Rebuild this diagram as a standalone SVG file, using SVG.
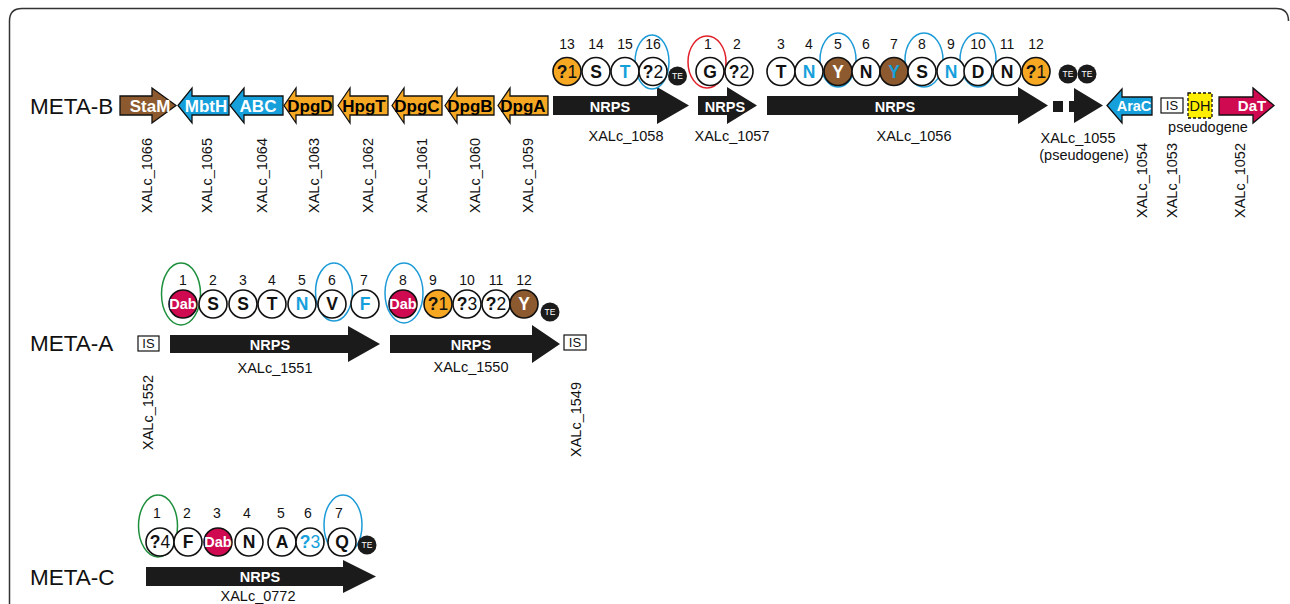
<svg xmlns="http://www.w3.org/2000/svg" width="1290" height="604" viewBox="0 0 1290 604">
<style>
text{font-family:"Liberation Sans",Arial,Helvetica,sans-serif;}
.lab{font-size:14.5px;fill:#111;}
.mid{text-anchor:middle;}
.vt{font-size:14.5px;fill:#111;text-anchor:end;}
.title{font-size:22.5px;fill:#111;}
.g{stroke:#111;stroke-width:1.3;stroke-linejoin:miter;}
.gt{font-size:17px;font-weight:bold;text-anchor:middle;}
.nrps{fill:#1b1b1b;}
.nt{font-size:14.5px;font-weight:bold;fill:#fff;text-anchor:middle;}
.c{fill:#fff;stroke:#111;stroke-width:1.6;}
.or{fill:#F7A823;}
.br{fill:#8C5A2E;}
.cr{fill:#D00A50;}
.ct{font-size:17.5px;font-weight:bold;text-anchor:middle;fill:#111;}
.dab{font-size:14.5px;}
.w{fill:#fff;}
.b{fill:#16A0DB;}
.n{font-weight:normal;}
.num{font-size:14px;text-anchor:middle;fill:#111;}
.te{fill:#1b1b1b;}
.tet{font-size:8.5px;fill:#fff;text-anchor:middle;}
.eb{fill:none;stroke:#1D9BD7;stroke-width:1.5;}
.er{fill:none;stroke:#E2202A;stroke-width:1.5;}
.eg{fill:none;stroke:#1E8F3C;stroke-width:1.5;}
.is{fill:#fff;stroke:#111;stroke-width:1.2;}
.ist{font-size:13px;fill:#111;text-anchor:middle;}
</style>
<path d="M9.5,604 V21 Q9.5,8.5 22,8.5 H1276 Q1288.5,8.5 1288.5,21" fill="none" stroke="#333" stroke-width="1.5"/>

<g id="meta-b">
<text class="title" x="30" y="113.5">META-B</text>
<g id="StaM"><polygon class="g br" points="120,96 152,96 152,88 176,105.5 152,123 152,115 120,115"/><text class="gt w" x="150" y="111.5">StaM</text><text class="vt" transform="translate(152,138) rotate(-90)">XALc_1066</text></g>
<g id="MbtH"><polygon class="g b" points="178,105.5 192,88 192,96 229,96 229,115 192,115 192,123"/><text class="gt w" x="206" y="111.5">MbtH</text><text class="vt" transform="translate(212,138) rotate(-90)">XALc_1065</text></g>
<g id="ABC"><polygon class="g b" points="230,105.5 244,88 244,96 283,96 283,115 244,115 244,123"/><text class="gt w" x="258" y="111.5">ABC</text><text class="vt" transform="translate(267,138) rotate(-90)">XALc_1064</text></g>
<g id="DpgD"><polygon class="g or" points="284,105.5 296,88 296,96 333,96 333,115 296,115 296,123"/><text class="gt" x="310" y="111.5">DpgD</text><text class="vt" transform="translate(319,138) rotate(-90)">XALc_1063</text></g>
<g id="HpgT"><polygon class="g or" points="338,105.5 350,88 350,96 388,96 388,115 350,115 350,123"/><text class="gt" x="364" y="111.5">HpgT</text><text class="vt" transform="translate(373,138) rotate(-90)">XALc_1062</text></g>
<g id="DpgC"><polygon class="g or" points="392,105.5 404,88 404,96 442,96 442,115 404,115 404,123"/><text class="gt" x="417" y="111.5">DpgC</text><text class="vt" transform="translate(427,138) rotate(-90)">XALc_1061</text></g>
<g id="DpgB"><polygon class="g or" points="445,105.5 457,88 457,96 494,96 494,115 457,115 457,123"/><text class="gt" x="470" y="111.5">DpgB</text><text class="vt" transform="translate(480,138) rotate(-90)">XALc_1060</text></g>
<g id="DpgA"><polygon class="g or" points="498,105.5 510,88 510,96 548,96 548,115 510,115 510,123"/><text class="gt" x="523" y="111.5">DpgA</text><text class="vt" transform="translate(533,138) rotate(-90)">XALc_1059</text></g>

<g id="XALc_1058">
<polygon class="nrps" points="553,96 657,96 657,87 689,105.5 657,124 657,115 553,115"/>
<text class="nt" x="610" y="111.5">NRPS</text>
<text class="lab mid" x="626" y="140.5">XALc_1058</text>
<ellipse class="eb" cx="652" cy="62" rx="17" ry="27"/>
<text class="num" x="567" y="49">13</text><text class="num" x="596" y="49">14</text><text class="num" x="625" y="49">15</text><text class="num" x="653" y="49">16</text>
<circle class="c or" cx="567" cy="71.5" r="14"/><text class="ct" x="567" y="77.8">?<tspan class="n">1</tspan></text>
<circle class="c" cx="596" cy="71.5" r="14"/><text class="ct" x="596" y="77.8">S</text>
<circle class="c" cx="625" cy="71.5" r="14"/><text class="ct b" x="625" y="77.8">T</text>
<circle class="c" cx="653" cy="71.5" r="14"/><text class="ct" x="653" y="77.8">?<tspan class="n">2</tspan></text>
<circle class="te" cx="677.5" cy="76" r="9.5"/><text class="tet" x="677.5" y="79">TE</text>
</g>

<g id="XALc_1057">
<polygon class="nrps" points="698,96 727,96 727,87 757,105.5 727,124 727,115 698,115"/>
<text class="nt" x="725" y="111.5">NRPS</text>
<text class="lab mid" x="732" y="140.5">XALc_1057</text>
<ellipse class="er" cx="707" cy="62" rx="19" ry="26"/>
<text class="num" x="708" y="49">1</text><text class="num" x="737" y="49">2</text>
<circle class="c" cx="710" cy="71.5" r="14"/><text class="ct" x="710" y="77.8">G</text>
<circle class="c" cx="739" cy="71.5" r="14"/><text class="ct" x="739" y="77.8">?<tspan class="n">2</tspan></text>
</g>

<g id="XALc_1056">
<polygon class="nrps" points="767,96 1018,96 1018,87 1048,105.5 1018,124 1018,115 767,115"/>
<text class="nt" x="895" y="111.5">NRPS</text>
<text class="lab mid" x="914" y="141">XALc_1056</text>
<ellipse class="eb" cx="838" cy="60" rx="18" ry="27"/>
<ellipse class="eb" cx="924" cy="60" rx="19" ry="27"/>
<ellipse class="eb" cx="978" cy="60" rx="18" ry="27"/>
<text class="num" x="781" y="49">3</text><text class="num" x="809" y="49">4</text><text class="num" x="838" y="49">5</text><text class="num" x="866" y="49">6</text><text class="num" x="894" y="49">7</text><text class="num" x="922" y="49">8</text><text class="num" x="951" y="49">9</text><text class="num" x="978" y="49">10</text><text class="num" x="1007" y="49">11</text><text class="num" x="1036" y="49">12</text>
<circle class="c" cx="781" cy="71.5" r="14"/><text class="ct" x="781" y="77.8">T</text>
<circle class="c" cx="809" cy="71.5" r="14"/><text class="ct b" x="809" y="77.8">N</text>
<circle class="c br" cx="838" cy="71.5" r="14"/><text class="ct w" x="838" y="77.8">Y</text>
<circle class="c" cx="866" cy="71.5" r="14"/><text class="ct" x="866" y="77.8">N</text>
<circle class="c br" cx="894" cy="71.5" r="14"/><text class="ct b" x="894" y="77.8">Y</text>
<circle class="c" cx="922" cy="71.5" r="14"/><text class="ct" x="922" y="77.8">S</text>
<circle class="c" cx="951" cy="71.5" r="14"/><text class="ct b" x="951" y="77.8">N</text>
<circle class="c" cx="978" cy="71.5" r="14"/><text class="ct" x="978" y="77.8">D</text>
<circle class="c" cx="1007" cy="71.5" r="14"/><text class="ct" x="1007" y="77.8">N</text>
<circle class="c or" cx="1036" cy="71.5" r="14"/><text class="ct" x="1036" y="77.8">?<tspan class="n">1</tspan></text>
<circle class="te" cx="1068" cy="74" r="9.5"/><text class="tet" x="1068" y="77">TE</text>
<circle class="te" cx="1087" cy="74" r="9.5"/><text class="tet" x="1087" y="77">TE</text>
</g>

<g id="XALc_1055">
<rect class="nrps" x="1053" y="101" width="10" height="11"/>
<rect class="nrps" x="1069" y="101" width="7" height="11"/>
<polygon class="nrps" points="1074,88 1103,105.5 1074,123"/>
<text class="lab mid" x="1078" y="143">XALc_1055</text>
<text class="lab mid" x="1084" y="160">(pseudogene)</text>
</g>

<g id="AraC"><polygon class="g b" points="1107,105.5 1122,89 1122,97 1152,97 1152,115 1122,115 1122,123"/><text class="gt w" style="font-size:14.5px" x="1134" y="111">AraC</text><text class="vt" transform="translate(1147,143) rotate(-90)">XALc_1054</text></g>
<g id="IS-1053"><rect class="is" x="1161" y="98" width="22" height="15"/><text class="ist" x="1172" y="110.3">IS</text><text class="vt" transform="translate(1177,143) rotate(-90)">XALc_1053</text></g>
<g id="DH"><rect x="1188" y="93" width="24" height="25" fill="#FFEE00" stroke="#111" stroke-width="1.3" stroke-dasharray="3,2"/><text class="lab mid" x="1200" y="110.5">DH</text><text class="lab mid" x="1208" y="132">pseudogene</text></g>
<g id="DaT"><polygon class="g cr" points="1219,97 1253,97 1253,88 1274,105.5 1253,123 1253,115 1219,115"/><text class="gt w" style="font-size:15px" x="1252" y="111">DaT</text><text class="vt" transform="translate(1245,143) rotate(-90)">XALc_1052</text></g>
</g>

<g id="meta-a">
<text class="title" x="30" y="351">META-A</text>
<g id="IS-1552"><rect class="is" x="138" y="336" width="21" height="15"/><text class="ist" x="148.5" y="348.3">IS</text><text class="vt" transform="translate(153,375) rotate(-90)">XALc_1552</text></g>
<g id="XALc_1551">
<polygon class="nrps" points="170,335 348,335 348,326 380,344 348,362 348,353 170,353"/>
<text class="nt" x="270" y="350">NRPS</text>
<text class="lab mid" x="275" y="373">XALc_1551</text>
<ellipse class="eg" cx="181" cy="294" rx="19.5" ry="31"/>
<ellipse class="eb" cx="334" cy="292" rx="18.5" ry="29"/>
<text class="num" x="183" y="285">1</text><text class="num" x="213" y="285">2</text><text class="num" x="243" y="285">3</text><text class="num" x="272" y="285">4</text><text class="num" x="302" y="285">5</text><text class="num" x="332" y="285">6</text><text class="num" x="364" y="285">7</text>
<circle class="c cr" cx="183" cy="304" r="14"/><text class="ct w dab" x="183" y="309.2">Dab</text>
<circle class="c" cx="213" cy="304" r="14"/><text class="ct" x="213" y="310.3">S</text>
<circle class="c" cx="243" cy="304" r="14"/><text class="ct" x="243" y="310.3">S</text>
<circle class="c" cx="272" cy="304" r="14"/><text class="ct" x="272" y="310.3">T</text>
<circle class="c" cx="302" cy="304" r="14"/><text class="ct b" x="302" y="310.3">N</text>
<circle class="c" cx="332" cy="304" r="14"/><text class="ct" x="332" y="310.3">V</text>
<circle class="c" cx="365" cy="304" r="14"/><text class="ct b" x="365" y="310.3">F</text>
</g>
<g id="XALc_1550">
<polygon class="nrps" points="390,335 532,335 532,325 560,344 532,363 532,353 390,353"/>
<text class="nt" x="471" y="350">NRPS</text>
<text class="lab mid" x="471" y="372">XALc_1550</text>
<ellipse class="eb" cx="404" cy="293" rx="19" ry="30"/>
<text class="num" x="403" y="285">8</text><text class="num" x="433" y="285">9</text><text class="num" x="467" y="285">10</text><text class="num" x="496" y="285">11</text><text class="num" x="524" y="285">12</text>
<circle class="c cr" cx="403" cy="304" r="14"/><text class="ct w dab" x="403" y="309.2">Dab</text>
<circle class="c or" cx="438" cy="304" r="14"/><text class="ct" x="438" y="310.3">?<tspan class="n">1</tspan></text>
<circle class="c" cx="467" cy="304" r="14"/><text class="ct" x="467" y="310.3">?<tspan class="n">3</tspan></text>
<circle class="c" cx="496" cy="304" r="14"/><text class="ct" x="496" y="310.3">?<tspan class="n">2</tspan></text>
<circle class="c br" cx="524" cy="304" r="14"/><text class="ct w" x="524" y="310.3">Y</text>
<circle class="te" cx="550" cy="312" r="9.5"/><text class="tet" x="550" y="315">TE</text>
</g>
<g id="IS-1549"><rect class="is" x="564" y="335" width="22" height="15"/><text class="ist" x="575" y="347.3">IS</text><text class="vt" transform="translate(581,382) rotate(-90)">XALc_1549</text></g>
</g>

<g id="meta-c">
<text class="title" x="30" y="585">META-C</text>
<g id="XALc_0772">
<polygon class="nrps" points="146,567 343,567 343,560 376,576.5 343,593 343,586 146,586"/>
<text class="nt" x="260" y="582">NRPS</text>
<text class="lab mid" x="258" y="601">XALc_0772</text>
<ellipse class="eg" cx="158" cy="526" rx="19.5" ry="31"/>
<ellipse class="eb" cx="343" cy="525" rx="19" ry="30"/>
<text class="num" x="157" y="518">1</text><text class="num" x="187" y="518">2</text><text class="num" x="217" y="518">3</text><text class="num" x="247" y="518">4</text><text class="num" x="281" y="518">5</text><text class="num" x="308" y="518">6</text><text class="num" x="339" y="518">7</text>
<circle class="c" cx="160" cy="542" r="14"/><text class="ct" x="160" y="548.3">?<tspan class="n">4</tspan></text>
<circle class="c" cx="188" cy="542" r="14"/><text class="ct" x="188" y="548.3">F</text>
<circle class="c cr" cx="218" cy="542" r="14"/><text class="ct w dab" x="218" y="547.2">Dab</text>
<circle class="c" cx="249" cy="542" r="14"/><text class="ct" x="249" y="548.3">N</text>
<circle class="c" cx="282" cy="542" r="14"/><text class="ct" x="282" y="548.3">A</text>
<circle class="c" cx="310" cy="542" r="14"/><text class="ct b" x="310" y="548.3">?<tspan class="n">3</tspan></text>
<circle class="c" cx="342" cy="542" r="14"/><text class="ct" x="342" y="548.3">Q</text>
<circle class="te" cx="367" cy="545" r="9.5"/><text class="tet" x="367" y="548">TE</text>
</g>
</g>
</svg>
